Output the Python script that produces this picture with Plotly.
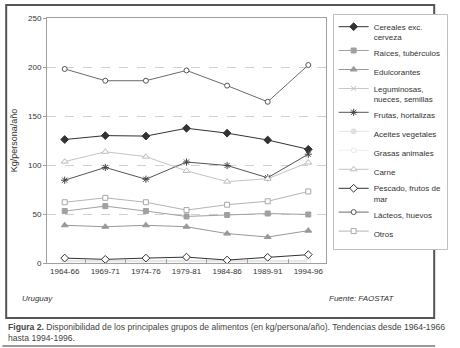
import plotly.graph_objects as go

periods = ["1964-66", "1969-71", "1974-76", "1979-81", "1984-86", "1989-91", "1994-96"]

cereales = [126, 130, 129.5, 137.5, 132.5, 125.5, 116]
raices = [53, 58, 53, 47.5, 49, 50.5, 49.5]
edulcorantes = [38.5, 37, 38.5, 37, 30, 26.5, 33]
leguminosas = [2, 2, 2, 2, 2, 2, 2]
frutas = [84.5, 97.5, 85.5, 103, 99.5, 87, 111]
aceites = [1.5, 1.5, 1.5, 1.5, 1.5, 1.5, 1.5]
grasas = [1, 1, 1, 1, 1, 1, 1]
carne = [103.5, 113.5, 108.5, 94, 83, 86, 102.5]
pescado = [5, 3.7, 5, 6, 3, 5.8, 8.5]
lacteos = [198, 186, 186, 196.5, 181, 164.5, 202]
otros = [62, 66.5, 62, 54, 59.5, 63, 73]

# name, values, line colour, symbol, marker fill, marker edge, size
series = [
    ("Cereales exc.<br>cerveza", cereales, "#333333", "diamond", "#333333", "#333333", 6),
    ("Raíces, tubérculos", raices, "#a0a0a0", "square", "#a0a0a0", "#a0a0a0", 5),
    ("Edulcorantes", edulcorantes, "#999999", "triangle-up", "#999999", "#999999", 6),
    ("Leguminosas,<br>nueces, semillas", leguminosas, "#c8c8c8", "x-thin-open", "#c0c0c0", "#c0c0c0", 5),
    ("Frutas, hortalizas", frutas, "#555555", "asterisk-open", "#444444", "#444444", 6),
    ("Aceites vegetales", aceites, "#e4e4e4", "circle", "#e0e0e0", "#e0e0e0", 5),
    ("Grasas animales", grasas, "#eeeeee", "circle", "white", "#e8e8e8", 5),
    ("Carne", carne, "#c4c4c4", "triangle-up", "white", "#bbbbbb", 6),
    ("Pescado, frutos de<br>mar", pescado, "#333333", "diamond", "white", "#333333", 6),
    ("Lácteos, huevos", lacteos, "#6a6a6a", "circle", "white", "#555555", 5),
    ("Otros", otros, "#b4b4b4", "square", "white", "#a8a8a8", 5),
]

fig = go.Figure()
for name, vals, lc, sym, fill, edge, ms in series:
    fig.add_trace(go.Scatter(
        x=periods, y=vals, name=name, mode="lines+markers",
        line=dict(color=lc, width=1),
        marker=dict(symbol=sym, size=ms, color=fill,
                    line=dict(color=edge, width=1)),
    ))

W, H = 460, 348
L, R, T, B = 47, 341, 18, 263


def px(x):
    return (x - L) / (R - L)


def py(y):
    return (B - y) / (B - T)


font_family = "Liberation Sans, Arial, sans-serif"

fig.update_layout(
    width=W, height=H,
    margin=dict(l=L, r=W - R, t=T, b=H - B, pad=0),
    paper_bgcolor="white", plot_bgcolor="white",
    font=dict(family=font_family, size=8, color="#333333"),
    showlegend=True,
    legend=dict(
        x=px(348), y=py(14), xanchor="left", yanchor="top",
        bordercolor="#c0c0c0", borderwidth=1, bgcolor="white",
        font=dict(size=8, color="#333333"), valign="top",
        itemwidth=30, tracegroupgap=0, maxheight=330,
    ),
    xaxis=dict(
        showgrid=False, showline=True, linecolor="#a0a0a0", linewidth=1,
        mirror=True, ticks="inside", ticklen=4, tickcolor="#a0a0a0",
        tickson="boundaries", tickfont=dict(size=8, color="#333333"),
        fixedrange=True,
    ),
    yaxis=dict(
        range=[0, 250], dtick=50, showgrid=True, gridcolor="#d0d0d0",
        griddash="dash", gridwidth=1, showline=True, linecolor="#a0a0a0",
        mirror=True, ticks="outside", ticklen=3, tickcolor="#a0a0a0",
        tickfont=dict(size=8, color="#333333"), zeroline=False,
        title=dict(text="Kg/persona/año", font=dict(size=9, color="#333333"), standoff=8),
    ),
    shapes=[
        dict(type="rect", xref="paper", yref="paper",
             x0=px(4), x1=px(455), y0=py(318), y1=py(5),
             line=dict(color="#555555", width=2), layer="below"),
        dict(type="line", xref="paper", yref="paper",
             x0=px(0), x1=px(456), y0=py(346), y1=py(346),
             line=dict(color="#333333", width=1)),
    ],
    annotations=[
        dict(text="<i>Uruguay</i>", xref="paper", yref="paper",
             x=px(19), y=py(298), xanchor="left", yanchor="middle",
             showarrow=False, font=dict(size=8, color="#333333")),
        dict(text="<i>Fuente: FAOSTAT</i>", xref="paper", yref="paper",
             x=px(342), y=py(298), xanchor="left", yanchor="middle",
             showarrow=False, font=dict(size=8, color="#333333")),
        dict(text="<b>Figura 2.</b> Disponibilidad de los principales grupos de alimentos (en kg/persona/año). Tendencias desde 1964-1966<br>hasta 1994-1996.",
             xref="paper", yref="paper", x=px(4), y=py(320),
             xanchor="left", yanchor="top", align="left", showarrow=False,
             font=dict(size=8.6, color="#444444")),
    ],
)

fig.write_html("out.html")
